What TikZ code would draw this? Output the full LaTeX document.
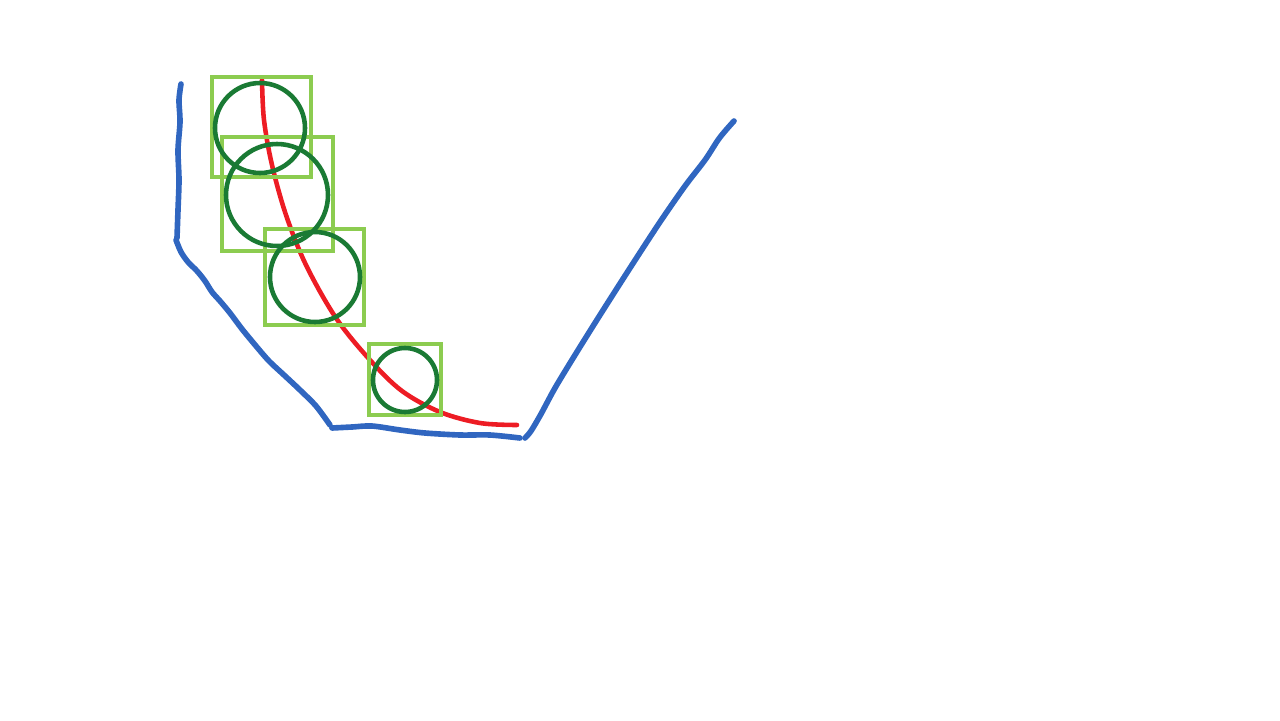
\documentclass[tikz,border=0pt]{standalone}
\begin{document}
\begin{tikzpicture}[x=0.05cm,y=-0.05cm,
  ink/.style={line width=8pt,draw={rgb,255:red,48;green,102;blue,192},line cap=round,line join=round},
  redink/.style={line width=6.5pt,draw={rgb,255:red,237;green,28;blue,36},line cap=round},
  circ/.style={line width=6.5pt,draw={rgb,255:red,26;green,122;blue,52}},
  sq/.style={line width=5pt,draw={rgb,255:red,140;green,204;blue,80}}]
\useasboundingbox (0,0) rectangle (1280,720);
% red curve
\draw[redink] plot[smooth,tension=0.55] coordinates {(262,80) (264,120) (272,165) (286,215) (306,265) (336,318) (370,360) (402,391) (440,412) (480,423) (517,425)};
% squares
\draw[sq] (212,77) rectangle (311,177);
\draw[sq] (222,137) rectangle (333,251);
\draw[sq] (265,229) rectangle (364,325);
\draw[sq] (369,344) rectangle (441,415);
% circles
\draw[circ] (260,128) circle[radius=2.25cm];
\draw[circ] (277,195) circle[radius=2.55cm];
\draw[circ] (315,277) circle[radius=2.25cm];
\draw[circ] (405,380) circle[radius=1.6cm];
% blue lines
\draw[ink] plot[smooth,tension=0.5] coordinates {(181,84) (179,100) (180,122) (178,150) (179,180) (178,210) (177,238)};
\draw[ink] plot[smooth,tension=0.5] coordinates {(176,240) (181,252) (188,262) (197,271) (205,281) (212,292) (220,301) (230,313) (242,329) (256,346) (269,361) (284,375) (300,390) (316,406) (330,425)};
\draw[ink] plot[smooth,tension=0.5] coordinates {(332,428) (352,427) (372,426) (400,430) (425,433) (460,435) (490,435) (520,438)};
\draw[ink] plot[smooth,tension=0.5] coordinates {(525,438) (531,431) (541,414) (555,388) (575,355) (600,315) (630,268) (660,222) (685,186) (705,160) (718,140) (726,130) (734,121)};
\end{tikzpicture}
\end{document}
